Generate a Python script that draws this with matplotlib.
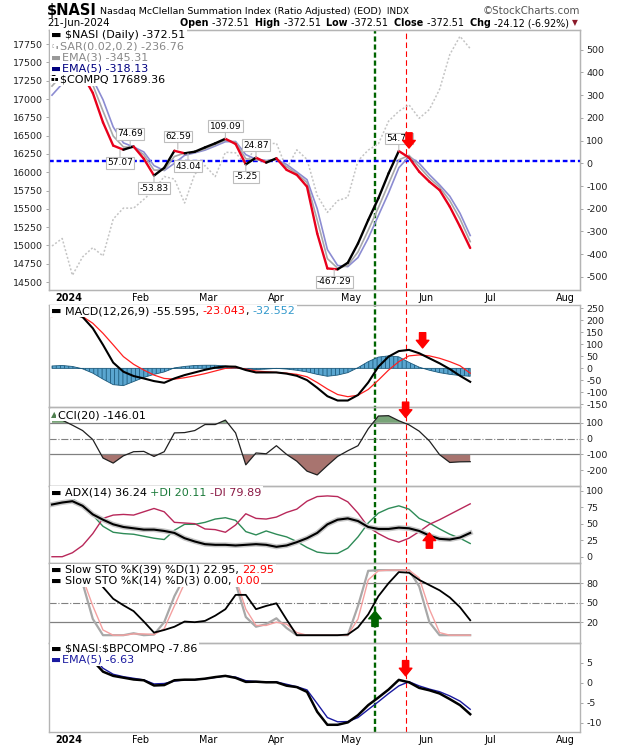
import numpy as np
import matplotlib
matplotlib.use("Agg")
import matplotlib.pyplot as plt
from matplotlib.collections import LineCollection
from matplotlib.transforms import IdentityTransform

plt.rcParams["hatch.linewidth"] = 0.6
plt.rcParams["axes.unicode_minus"] = False

# NYSE holidays, so that x is counted in trading days like the source chart
HOLIDAYS = ["2023-12-25", "2024-01-01", "2024-01-15", "2024-02-19", "2024-03-29",
            "2024-05-27", "2024-06-19", "2024-07-04"]

# sample dates (every third trading day)
dates = ["2023-12-22", "2023-12-28", "2024-01-03", "2024-01-08", "2024-01-11", "2024-01-17",
         "2024-01-22", "2024-01-25", "2024-01-30", "2024-02-02", "2024-02-07", "2024-02-12",
         "2024-02-15", "2024-02-21", "2024-02-26", "2024-02-29", "2024-03-05", "2024-03-08",
         "2024-03-13", "2024-03-18", "2024-03-21", "2024-03-26", "2024-04-01", "2024-04-04",
         "2024-04-09", "2024-04-12", "2024-04-17", "2024-04-22", "2024-04-25", "2024-04-30",
         "2024-05-03", "2024-05-08", "2024-05-13", "2024-05-16", "2024-05-21", "2024-05-24",
         "2024-05-30", "2024-06-04", "2024-06-07", "2024-06-12", "2024-06-17", "2024-06-21"]

nasi = [380, 420, 430, 390, 310, 180, 78, 60, 74, 20, -54, -20,
        55, 44, 51, 70, 88, 108, 85, -5, 25, 3, 22, -29,
        -51, -103, -309, -463, -467, -438, -353, -250, -154, -44, 54, 25,
        -37, -81, -118, -191, -279, -373]
ema3 = [340, 390, 420, 405, 345, 230, 120, 72, 70, 38, -30, -30,
        30, 45, 49, 63, 82, 102, 92, 20, 15, 10, 18, -15,
        -45, -85, -250, -420, -462, -450, -390, -295, -195, -90, 15, 35,
        -15, -65, -105, -165, -245, -345]
ema5 = [300, 350, 395, 405, 370, 280, 160, 90, 72, 50, -10, -32,
        0, 35, 46, 58, 76, 95, 96, 38, 18, 12, 16, -5,
        -38, -72, -200, -380, -450, -455, -415, -330, -230, -130, -20, 30,
        0, -50, -95, -145, -220, -318]
compq = [14992, 15095, 14592, 14843, 14970, 14856, 15360, 15510, 15509, 15629, 15756, 15942,
         15906, 15580, 15976, 16092, 15940, 16273, 16265, 16103, 16369, 16384, 16396, 16049,
         16306, 16175, 15683, 15451, 15611, 15658, 16156, 16302, 16388, 16698, 16833, 16921,
         16737, 16857, 17133, 17608, 17857, 17689]

macd = [226, 235, 228, 214, 167, 98, 24, -14, -32, -42, -53, -60,
        -42, -28, -17, -6, 3, 8, 7, -7, -17, -17, -17, -22,
        -31, -49, -81, -116, -134, -134, -111, -59, 7, 49, 72, 77,
        63, 42, 21, -3, -31, -56]
signal = [216, 223, 220, 216, 188, 146, 98, 49, 17, -7, -28, -42,
          -45, -39, -31, -22, -11, 0, 3, -3, -11, -14, -17, -20,
          -25, -35, -59, -86, -109, -118, -112, -88, -49, -7, 28, 52,
          56, 52, 42, 28, 11, -20]
hist = [10, 12, 8, -2, -20, -45, -68, -72, -55, -38, -25, -15,
        2, 8, 12, 13, 13, 10, 5, -3, -5, -3, 0, -3,
        -8, -15, -25, -33, -28, -18, 3, 28, 47, 52, 48, 25,
        5, -8, -18, -25, -30, -33]

cci = [117, 117, 85, 51, -6, -123, -155, -109, -83, -81, -113, -83,
       36, 38, 51, 89, 89, 117, 36, -166, -91, -96, -45, -100,
       -143, -206, -230, -170, -113, -77, -45, 62, 143, 145, 113, 87,
       47, -15, -102, -151, -147, -146]

adx = [79, 82, 84, 77, 64, 56, 49, 45, 43, 41, 41, 39,
       36, 28, 23, 19, 18, 18, 17, 18, 19, 18, 15, 17,
       22, 28, 36, 49, 56, 58, 54, 45, 42, 42, 44, 43,
       39, 32, 27, 26, 29, 36]
plus_di = [97, 96, 88, 77, 63, 46, 37, 35, 34, 31, 28, 26,
           40, 49, 49, 52, 57, 59, 55, 38, 33, 39, 34, 30,
           23, 14, 7, 5, 5, 13, 30, 51, 66, 73, 77, 72,
           58, 51, 42, 34, 28, 20]
minus_di = [0, 0, 6, 17, 35, 58, 63, 64, 63, 68, 73, 68,
            52, 51, 50, 42, 41, 37, 48, 65, 58, 57, 60, 67,
            72, 84, 91, 92, 91, 83, 66, 45, 35, 27, 22, 28,
            38, 49, 56, 64, 72, 80]

nan = np.nan
sto_k39 = [nan, nan, nan, nan, nan, 74, 56, 46, 37, 21, 4, 8,
           13, 21, 20, 22, 30, 40, 62, 62, 40, 45, 49, 24,
           0, 0, 0, 0, 0, 1, 12, 32, 60, 80, 97, 96,
           85, 77, 69, 58, 43, 23]
sto_k14 = [95, 98, 95, 80, 25, 0, 0, 0, 3, 0, 1, 20,
           60, 90, 98, 100, 100, 95, 80, 28, 13, 17, 26, 11,
           0, 0, 0, 0, 0, 0, 45, 99, 100, 100, 100, 100,
           75, 20, 0, 0, 0, 0]
sto_d3 = [90, 96, 97, 88, 45, 8, 0, 0, 2, 2, 1, 10,
          45, 80, 96, 99, 100, 97, 88, 40, 15, 15, 20, 17,
          4, 0, 0, 0, 0, 0, 25, 85, 99, 100, 100, 100,
          88, 40, 4, 0, 0, 0]

ratio = [5.5, 7, 7.5, 7, 5.5, 2.75, 1.7, 1.25, 0.8, 0.6, -0.7, -0.6,
         0.6, 0.75, 0.75, 1.0, 1.4, 1.7, 1.2, 0.2, 0.25, 0.1, 0.1, -0.75,
         -1.1, -2.3, -7.25, -10.5, -10.5, -9.9, -8.1, -5.6, -3.7, -1.7, 0.7, 0.1,
         -1.3, -1.9, -2.7, -4.1, -5.6, -7.86]
ratio_ema5 = [5.0, 6.5, 7.2, 7.2, 6.5, 3.6, 2.1, 1.5, 1.1, 0.7, -0.3, -0.2,
              0.4, 0.7, 0.75, 1.0, 1.3, 1.7, 1.4, 0.5, 0.3, 0.2, 0.2, -0.4,
              -1.0, -1.8, -5.2, -8.7, -9.75, -9.7, -8.7, -6.7, -4.75, -2.7, -0.8, 0.25,
              -0.8, -1.6, -2.25, -3.3, -4.6, -6.63]

# month labels
month_starts = ["2024-01-02", "2024-02-01", "2024-03-01", "2024-04-01", "2024-05-01",
                "2024-06-03", "2024-07-01", "2024-08-01"]
month_labels = ["2024", "Feb", "Mar", "Apr", "May", "Jun", "Jul", "Aug"]

# labelled turning points of $NASI
pt_dates = ["2024-01-24", "2024-01-29", "2024-02-07", "2024-02-16", "2024-02-22",
            "2024-03-08", "2024-03-18", "2024-03-21", "2024-04-24", "2024-05-21"]
pt_values = [57.07, 74.69, -53.83, 62.59, 43.04, 109.09, -5.25, 24.87, -467.29, 54.73]
pt_above = [False, True, False, True, False, True, False, True, False, True]

# marked events
green_date = "2024-05-10"
red_date = "2024-05-23"
blue_level = 11

# ---------------------------------------------------------------------------
def tday(d):
    return np.busday_count(np.datetime64("2024-01-02"), np.array(d, dtype="datetime64[D]"),
                           holidays=HOLIDAYS)

x = tday(dates)
nasi = np.array(nasi, float)

W_PX, H_PX = 620, 750
LEFT, RIGHT = 49, 580
X0, DX = 69, 3.4                      # pixel of 2 Jan 2024 and pixels per trading day
XMIN, XMAX = (LEFT - X0) / DX, (RIGHT - X0) / DX
FRAME = "#b4b4b4"
LEG = 8.0

fig = plt.figure(figsize=(6.2, 7.5), dpi=100)
fig.patch.set_facecolor("white")
renderer = fig.canvas.get_renderer()


def panel(top, bottom):
    ax = fig.add_axes([LEFT / W_PX, 1 - bottom / H_PX, (RIGHT - LEFT) / W_PX, (bottom - top) / H_PX])
    ax.set_facecolor("none")
    for s in ax.spines.values():
        s.set_color(FRAME)
        s.set_linewidth(1.0)
    ax.set_xlim(XMIN, XMAX)
    ax.yaxis.tick_right()
    ax.tick_params(axis="y", length=2.5, width=0.6, color="#999999", labelsize=6.8, pad=2,
                   labelcolor="#222222")
    ax.tick_params(axis="x", length=0, labelbottom=False)
    return ax


def month_axis(ax):
    ax.set_xticks(tday(month_starts))
    ax.set_xticklabels(month_labels)
    ax.tick_params(axis="x", labelbottom=True, labelsize=6.9, pad=2)
    ax.get_xticklabels()[0].set_fontweight("bold")


def rich(x_px, y_px, pieces, size=LEG, box=True, align="left"):
    xx = x_px
    texts = []
    for p in pieces:
        txt, col = p[0], p[1]
        weight = p[2] if len(p) > 2 else "normal"
        fs = p[3] if len(p) > 3 else size
        t = fig.text(xx, H_PX - y_px, txt, transform=IdentityTransform(), fontsize=fs,
                     color=col, fontweight=weight, va="center", ha="left", zorder=20)
        if box:
            t.set_bbox(dict(fc="white", ec="none", pad=1.0))
        xx = t.get_window_extent(renderer).x1
        texts.append(t)
    if align == "right":
        shift = xx - x_px
        for t in texts:
            px, py = t.get_position()
            t.set_position((px - shift, py))
    return texts


def block_arrow(ax, d, v, color="red", up=False):
    ax.annotate("", xy=(tday(d), v), xytext=(0, -11 if up else 11), textcoords="offset points",
                annotation_clip=False, zorder=12,
                arrowprops=dict(arrowstyle="simple,head_width=0.9,head_length=0.55,tail_width=0.45",
                                color=color, mutation_scale=10, shrinkA=0, shrinkB=0))


# vertical event lines behind everything
ov = fig.add_axes([LEFT / W_PX, 1 - 732 / H_PX, (RIGHT - LEFT) / W_PX, (732 - 30) / H_PX], zorder=-1)
ov.set_xlim(XMIN, XMAX)
ov.axis("off")
ov.axvline(tday(green_date), color="#006400", lw=1.7, ls=(0, (2.2, 1.2)))
ov.axvline(tday(red_date), color="#ff0000", lw=0.8, ls=(0, (5, 3)))

# ---- main panel ----
ax_c = panel(30, 290)
ax_c.yaxis.tick_left()
ax_c.tick_params(axis="y", length=2.5, pad=2)
ax_c.set_ylim(14391, 17943)
ax_c.set_yticks(range(14500, 17751, 250))
ax_c.plot(x, compq, color="#c4c4c4", lw=1.1, ls=(0, (1.3, 1.3)))
month_axis(ax_c)

ax_n = ax_c.twinx()
for s in ax_n.spines.values():
    s.set_color(FRAME)
ax_n.set_ylim(-558, 587)
ax_n.set_yticks(range(-500, 501, 100))
ax_n.tick_params(axis="y", length=2.5, width=0.6, color="#999999", labelsize=6.8, pad=2,
                 labelcolor="#222222")
ax_n.axhline(blue_level, color="#0000ff", lw=1.7, ls=(0, (2.0, 1.2)))
ax_n.plot(x, ema5, color="#8c8cd2", lw=1.2)
ax_n.plot(x, ema3, color="#a8a8a8", lw=1.2)
pts = np.column_stack([x, nasi])
segs = np.stack([pts[:-1], pts[1:]], axis=1)
cols = ["#e8001c" if b < a else "black" for a, b in zip(nasi[:-1], nasi[1:])]
ax_n.add_collection(LineCollection(segs, colors=cols, linewidths=1.7, capstyle="round",
                                   joinstyle="round"))
for d, v, up in zip(pt_dates, pt_values, pt_above):
    ax_n.annotate(f"{v:.2f}", xy=(tday(d), v), xytext=(0, 9 if up else -9),
                  textcoords="offset points", ha="center", va="center", fontsize=6.5,
                  bbox=dict(boxstyle="square,pad=0.15", fc="white", ec="#bdbdbd", lw=0.8),
                  arrowprops=dict(arrowstyle="-", color="#bdbdbd", lw=0.8, shrinkA=0, shrinkB=0))
block_arrow(ax_n, "2024-05-24", 67)

# ---- MACD ----
ax_m = panel(305, 407)
ax_m.set_ylim(-161, 264)
ax_m.set_yticks(range(-150, 251, 50))
ax_m.fill_between(x, hist, 0, facecolor="#5aa6d0", edgecolor="#1d5a7c", hatch="||||", lw=0.6)
ax_m.plot(x, signal, color="#ff2020", lw=0.9)
ax_m.plot(x, macd, color="black", lw=1.5)
block_arrow(ax_m, "2024-05-31", 85)

# ---- CCI ----
ax_cci = panel(407, 486)
ax_cci.set_ylim(-300, 200)
ax_cci.set_yticks([100, 0, -100, -200])
cci_a = np.array(cci, float)
ax_cci.fill_between(x, cci_a, 100, where=cci_a >= 100, interpolate=True, color="#78a478", lw=0)
ax_cci.fill_between(x, cci_a, -100, where=cci_a <= -100, interpolate=True, color="#a8746f", lw=0)
for lvl in (100, -100):
    ax_cci.axhline(lvl, color="#808080", lw=0.9)
ax_cci.axhline(0, color="#808080", lw=0.8, ls="-.")
ax_cci.plot(x, cci_a, color="#202020", lw=0.9)
block_arrow(ax_cci, "2024-05-23", 134)

# ---- ADX ----
ax_a = panel(486, 563)
ax_a.set_ylim(-9.5, 107)
ax_a.set_yticks([0, 25, 50, 75, 100])
ax_a.plot(x, plus_di, color="#2e8b57", lw=1.0)
ax_a.plot(x, minus_di, color="#b8285a", lw=1.0)
ax_a.plot(x, adx, color="#c8c8c8", lw=3.6)
ax_a.plot(x, adx, color="black", lw=1.5)
block_arrow(ax_a, "2024-06-04", 36, up=True)

# ---- Slow STO ----
ax_s = panel(563, 643)
ax_s.set_ylim(-12, 111)
ax_s.set_yticks([80, 50, 20])
for lvl in (80, 20):
    ax_s.axhline(lvl, color="#808080", lw=0.9)
ax_s.axhline(50, color="#808080", lw=0.8, ls="-.")
ax_s.plot(x, sto_k14, color="#a8a8a8", lw=1.6)
ax_s.plot(x, sto_d3, color="#f4a0a0", lw=1.0)
ax_s.plot(x, sto_k39, color="black", lw=1.3)
block_arrow(ax_s, green_date, 37, color="#006400", up=True)

# ---- ratio ----
ax_r = panel(643, 732)
ax_r.set_ylim(-12.3, 9.9)
ax_r.set_yticks([5, 0, -5, -10])
ax_r.plot(x, ratio_ema5, color="#1a1aa0", lw=1.0)
ax_r.plot(x, ratio, color="black", lw=1.8)
block_arrow(ax_r, "2024-05-23", 1.7)
month_axis(ax_r)

# ---- texts ----
rich(47, 11, [("\\$NASI", "black", "bold", 10.5),
              (" Nasdaq McClellan Summation Index (Ratio Adjusted) (EOD) ", "black", "normal", 6.8),
              (" INDX", "black", "normal", 6.4)], box=False)
rich(580, 11, [("©StockCharts.com", "#555555", "normal", 7.4)], box=False, align="right")
rich(47, 23, [("21-Jun-2024", "black", "normal", 7.4)], box=False)
rich(578, 23, [("Open ", "black", "bold"), ("-372.51  ", "black"),
               ("High ", "black", "bold"), ("-372.51  ", "black"),
               ("Low ", "black", "bold"), ("-372.51  ", "black"),
               ("Close ", "black", "bold"), ("-372.51  ", "black"),
               ("Chg ", "black", "bold"), ("-24.12 (-6.92%) ", "black"),
               ("▼", "#8b1a2a", "normal", 5.5)], size=6.9, box=False, align="right")

rich(51, 35.5, [("▬ ", "black"), ("\\$NASI (Daily) -372.51", "black")])
rich(51, 46.5, [("▫", "#999999", "normal", 5), ("▪", "#999999", "normal", 4),
                ("SAR(0.02,0.2) -236.76", "#888888")])
rich(51, 57.5, [("▬", "#999999"), ("EMA(3) -345.31", "#888888")])
rich(51, 68.5, [("▬", "#000080"), ("EMA(5) -318.13", "#000080")])
rich(51, 79.5, [("▪▪ ", "black", "normal", 4), ("\\$COMPQ 17689.36", "black")])

rich(51, 311, [("▬ ", "black"), ("MACD(12,26,9) -55.595, ", "black"), ("-23.043", "#ff0000"),
               (", ", "black"), ("-32.552", "#3399cc")])
rich(51, 415, [("▲", "#4f7f4f", "normal", 6), ("CCI(20) -146.01", "black")])
rich(51, 492.5, [("▬ ", "black"), ("ADX(14) 36.24 ", "black"), ("+DI 20.11 ", "#1b7a3a"),
                 ("-DI 79.89", "#8b1a45")])
rich(51, 570, [("▬ ", "black"), ("Slow STO %K(39) %D(1) 22.95, ", "black"), ("22.95", "#ff0000")])
rich(51, 580.7, [("▬ ", "black"), ("Slow STO %K(14) %D(3) 0.00, ", "black"), ("0.00", "#ff0000")])
rich(51, 648.5, [("▬ ", "black"), ("\\$NASI:\\$BPCOMPQ -7.86", "black")])
rich(51, 659.5, [("▬", "#1a1aa0"), ("EMA(5) -6.63", "#1a1aa0")])

fig.savefig("out.png", dpi=100, facecolor="white")
